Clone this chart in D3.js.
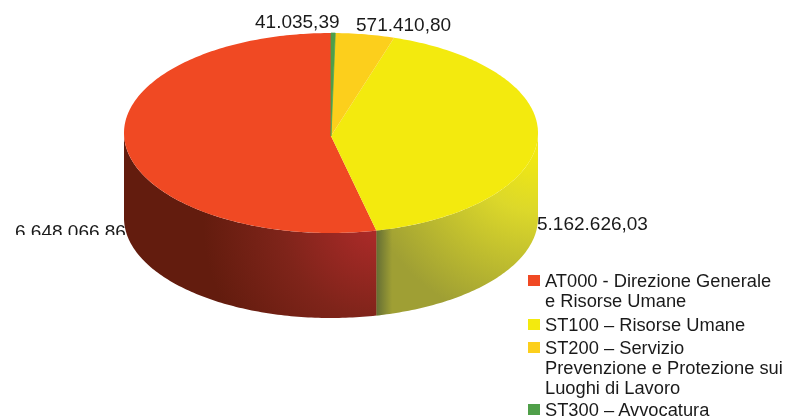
<!DOCTYPE html>
<html>
<head>
<meta charset="utf-8">
<script src="https://cdn.jsdelivr.net/npm/d3@7"></script>
<style>
  html, body {margin: 0; padding: 0; background: #fff; overflow: hidden;}
  svg {display: block; filter: blur(0.35px);}
  text {font-family: "Liberation Sans", Arial, sans-serif; fill: #1a1a1a;}
</style>
</head>
<body>
<script>
/* ---------------------------- */
/* DATA                         */
/* ---------------------------- */

const categories = ["AT000", "ST100", "ST200", "ST300"];
const values = [6648066.86, 5162626.03, 571410.80, 41035.39];
const valueLabels = ["6.648.066,86", "5.162.626,03", "571.410,80", "41.035,39"];
const colors = ["#f04923", "#f3ea0e", "#fccf1c", "#4f9f49"];
const legendLines = [
    ["AT000 - Direzione Generale", "e Risorse Umane"],
    ["ST100 – Risorse Umane"],
    ["ST200 – Servizio", "Prevenzione e Protezione sui", "Luoghi di Lavoro"],
    ["ST300 – Avvocatura"]
];

/* ---------------------------- */
/* VARIABLES                    */
/* ---------------------------- */

const w = 787; // Width of canvas
const h = 419; // Height of canvas

const cx = 331, cy = 133; // Centre of the top ellipse
const rx = 207, ry = 100; // Radii of the top ellipse
const depth = 85; // Height of the wall
const apexDrop = 3; // Slices meet a little below the ellipse centre

// Unit circle to ellipse scalers
const x = d3.scaleLinear().domain([-1, 1]).range([cx - rx, cx + rx]);
const y = d3.scaleLinear().domain([-1, 1]).range([cy + ry, cy - ry]);

const pie = d3.pie().sort(null).startAngle(2 * Math.PI).endAngle(0);
const slices = pie(values);

/* ---------------------------- */
/* CANVAS                       */
/* ---------------------------- */

const svg = d3.select("body")
    .append("svg")
        .attr("width", w)
        .attr("height", h);

const defs = svg.append("defs");

// Red wall gets brighter toward the seam
const redGrad = defs.append("radialGradient")
    .attr("id", "redWall")
    .attr("gradientUnits", "userSpaceOnUse")
    .attr("cx", 378).attr("cy", 222).attr("r", 175);
redGrad.append("stop").attr("offset", "0%").attr("stop-color", "#b02b2a");
redGrad.append("stop").attr("offset", "55%").attr("stop-color", "#7f241a");
redGrad.append("stop").attr("offset", "100%").attr("stop-color", "#631c0e");

// Yellow wall fades from the right edge
const yellowGrad = defs.append("radialGradient")
    .attr("id", "yellowWall")
    .attr("gradientUnits", "userSpaceOnUse")
    .attr("cx", 535).attr("cy", 150).attr("r", 175);
yellowGrad.append("stop").attr("offset", "0%").attr("stop-color", "#f3ea10");
yellowGrad.append("stop").attr("offset", "35%").attr("stop-color", "#dcd82a");
yellowGrad.append("stop").attr("offset", "100%").attr("stop-color", "#9f9f34");

const seamGrad = defs.append("linearGradient")
    .attr("id", "seam")
    .attr("gradientUnits", "userSpaceOnUse")
    .attr("x1", 375).attr("x2", 392).attr("y1", 0).attr("y2", 0);
seamGrad.append("stop").attr("offset", "0%").attr("stop-color", "#5f6a34").attr("stop-opacity", 1);
seamGrad.append("stop").attr("offset", "100%").attr("stop-color", "#5f6a34").attr("stop-opacity", 0);

// The big label is cut off at the bottom in the reference
defs.append("clipPath").attr("id", "labelClip")
    .append("rect").attr("x", 0).attr("y", 200).attr("width", 126).attr("height", 35);

/* ---------------------------- */
/* FUNCTIONS                    */
/* ---------------------------- */

const line = d3.line();

function rim(a0, a1, dy) {
    const n = Math.max(2, Math.ceil(Math.abs(a1 - a0) * 60));
    return d3.range(n + 1).map(i => {
        const a = a0 + (a1 - a0) * i / n;
        return [x(Math.sin(a)), y(Math.cos(a)) + dy];
    });
}

function wallPath(a0, a1) {
    const pts = rim(a0, a1, 0).concat(rim(a1, a0, depth));
    return line(pts) + "Z";
}

function topPath(d) {
    return line([[x(0), y(0) + apexDrop]].concat(rim(d.startAngle, d.endAngle, 0))) + "Z";
}

/* ---------------------------- */
/* DRAW                         */
/* ---------------------------- */

// Red label sits behind the wall and is clipped
svg.append("text")
    .attr("x", 15).attr("y", 238)
    .attr("clip-path", "url(#labelClip)")
    .style("font-size", "19px")
    .text(valueLabels[0]);

// Walls, only the front half (angles pi/2 to 3pi/2) is visible
const front = [Math.PI / 2, 3 * Math.PI / 2];
const redEnd = slices[0].endAngle;

svg.append("path")
    .attr("d", wallPath(front[0], redEnd))
    .attr("fill", "url(#yellowWall)");
svg.append("path")
    .attr("d", wallPath(front[0], redEnd))
    .attr("fill", "url(#seam)");
svg.append("path")
    .attr("d", wallPath(redEnd, front[1]))
    .attr("fill", "url(#redWall)");

// Top slices
svg.selectAll("path.slice")
    .data(slices)
    .enter()
    .append("path")
        .attr("class", "slice")
        .attr("d", topPath)
        .attr("fill", (d, i) => colors[i])
        .attr("stroke", (d, i) => i === 3 ? colors[i] : "none")
        .attr("stroke-width", 0.7);

// Value labels
svg.append("text").attr("x", 537).attr("y", 230).style("font-size", "19px").text(valueLabels[1]);
svg.append("text").attr("x", 356).attr("y", 31).style("font-size", "19px").text(valueLabels[2]);
svg.append("text").attr("x", 255).attr("y", 28).style("font-size", "19px").text(valueLabels[3]);

// Legend
const legendRows = [287, 331, 354, 416]; // baseline of first line of each entry
const lineStep = 20;

const legend = svg.selectAll("g.legend")
    .data(categories)
    .enter()
    .append("g")
        .attr("class", "legend");

legend.append("rect")
    .attr("x", 528)
    .attr("y", (d, i) => legendRows[i] - 12)
    .attr("width", 12)
    .attr("height", 11)
    .attr("fill", (d, i) => colors[i]);

legend.each(function(d, i) {
    d3.select(this).selectAll("text")
        .data(legendLines[i])
        .enter()
        .append("text")
            .attr("x", 545)
            .attr("y", (t, j) => legendRows[i] + j * lineStep)
            .style("font-size", "18.3px")
            .text(t => t);
});
</script>
</body>
</html>
